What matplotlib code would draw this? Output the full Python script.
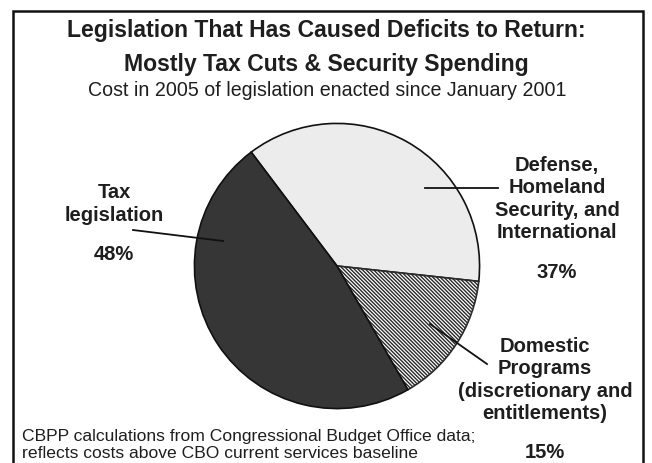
import matplotlib
matplotlib.use("Agg")
import matplotlib.pyplot as plt
from matplotlib.patches import Rectangle
from matplotlib.lines import Line2D

# ---- data ----
categories = ["Defense, Homeland Security, and International",
              "Domestic Programs (discretionary and entitlements)",
              "Tax legislation"]
shares = [37, 15, 48]
pct_labels = ["37%", "15%", "48%"]
label_texts = ["Defense,\nHomeland\nSecurity, and\nInternational",
               "Domestic\nPrograms\n(discretionary and\nentitlements)",
               "Tax\nlegislation"]
title1 = "Legislation That Has Caused Deficits to Return:"
title2 = "Mostly Tax Cuts & Security Spending"
subtitle = "Cost in 2005 of legislation enacted since January 2001"
footnote = ("CBPP calculations from Congressional Budget Office data;\n"
            "reflects costs above CBO current services baseline")

plt.rcParams['font.family'] = ['Liberation Sans', 'DejaVu Sans']
plt.rcParams['hatch.linewidth'] = 1.0

W, H = 652, 464
fig = plt.figure(figsize=(W / 100, H / 100), dpi=100)
fig.patch.set_facecolor("white")

def fx(x):
    return x / W

def fy(y):
    return 1 - y / H

# frame
fig.add_artist(Rectangle((fx(13), fy(475)), fx(643) - fx(13), fy(12) - fy(475),
                         transform=fig.transFigure, fill=False,
                         edgecolor="#111111", linewidth=1.8))

# pie axes
cx, cy, r = 337, 267, 144
ax = fig.add_axes([fx(cx - r), fy(cy + r), 2 * r / W, 2 * r / H])
colors = ["#ececec", "white", "#363636"]
wedges, _ = ax.pie(shares, colors=colors, startangle=127, counterclock=False,
                   wedgeprops=dict(edgecolor="#111111", linewidth=1.2))
wedges[1].set_hatch("\\" * 9)
wedges[1].set_edgecolor("#2a2a2a")
ax.set_xlim(-1.01, 1.01)
ax.set_ylim(-1.01, 1.01)
ax.set_aspect("equal")
ax.axis("off")

tc = "#1e1e1e"
# titles
fig.text(fx(326), fy(30), title1, ha="center", va="center", fontsize=16.6,
         fontweight="bold", color=tc)
fig.text(fx(326), fy(64), title2, ha="center", va="center", fontsize=16.6,
         fontweight="bold", color=tc)
fig.text(fx(327), fy(91), subtitle, ha="center", va="center", fontsize=14.1,
         color=tc)

# labels
lab_kw = dict(ha="center", va="center", fontsize=14.5, fontweight="bold",
              color=tc, linespacing=1.22)
fig.text(fx(557), fy(199), label_texts[0], **lab_kw)
fig.text(fx(557), fy(273), pct_labels[0], **lab_kw)
fig.text(fx(545), fy(380), label_texts[1], **lab_kw)
fig.text(fx(545), fy(453), pct_labels[1], **lab_kw)
fig.text(fx(114), fy(204), label_texts[2], **lab_kw)
fig.text(fx(114), fy(255), pct_labels[2], **lab_kw)

# leader lines
for (x0, y0, x1, y1) in [(425, 189, 498, 189), (430, 325, 487, 365),
                         (133, 231, 223, 242)]:
    fig.add_artist(Line2D([fx(x0), fx(x1)], [fy(y0), fy(y1)],
                          transform=fig.transFigure, color="#111111",
                          linewidth=1.3))

# footnote
fig.text(fx(22), fy(445), footnote, ha="left", va="center", fontsize=12.6,
         color=tc, linespacing=1.1)

fig.savefig("out.png", dpi=100)
